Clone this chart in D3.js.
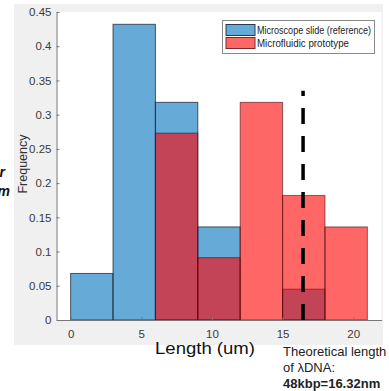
<!DOCTYPE html>
<html><head><meta charset="utf-8">
<script src="https://cdn.jsdelivr.net/npm/d3@7"></script>
<style>body{margin:0;background:#fff}svg{display:block;font-family:Arial,"Liberation Sans",sans-serif}</style>
</head><body><svg id="c" width="389" height="391"></svg>
<script>
const binEdges = [0, 3, 6, 9, 12, 15, 18, 21];
const slideFreq = [0.068, 0.432, 0.318, 0.136, 0, 0.045, 0];
const chipFreq  = [0, 0, 0.273, 0.091, 0.318, 0.182, 0.136];
const xTicks = [0, 5, 10, 15, 20];
const yTicks = [0, 0.05, 0.1, 0.15, 0.2, 0.25, 0.3, 0.35, 0.4, 0.45];
const seriesNames = ["Microscope slide (reference)", "Microfluidic prototype"];
const lambdaLength = 16.45;
const lambdaLineTop = 0.335;

const svg = d3.select("#c");
const x = d3.scaleLinear().domain([-1, 22]).range([56.5, 381.5]);
const y = d3.scaleLinear().domain([0, 0.45]).range([320, 12]);

// figure background
svg.append("rect").attr("x",14).attr("y",4).attr("width",369).attr("height",341).attr("fill","#f0f0f0");
svg.append("rect").attr("x",x(-1)).attr("y",y(0.45)).attr("width",x(22)-x(-1)).attr("height",y(0)-y(0.45)).attr("fill","#fff");

const bins = d3.range(binEdges.length-1).map(i=>({x0:binEdges[i],x1:binEdges[i+1],a:slideFreq[i],b:chipFreq[i]}));

svg.append("g").selectAll("rect").data(bins.filter(d=>d.a>0)).join("rect")
  .attr("x",d=>x(d.x0)).attr("width",d=>x(d.x1)-x(d.x0))
  .attr("y",d=>y(d.a)).attr("height",d=>y(0)-y(d.a))
  .attr("fill","rgb(0,114,189)").attr("fill-opacity",0.6)
  .attr("stroke","#1a1a2e").attr("stroke-opacity",0.7).attr("stroke-width",1);

svg.append("g").selectAll("rect").data(bins.filter(d=>d.b>0)).join("rect")
  .attr("x",d=>x(d.x0)).attr("width",d=>x(d.x1)-x(d.x0))
  .attr("y",d=>y(d.b)).attr("height",d=>y(0)-y(d.b))
  .attr("fill","rgb(255,0,0)").attr("fill-opacity",0.6)
  .attr("stroke","#3a0000").attr("stroke-opacity",0.55).attr("stroke-width",1);

// axes
const ax = svg.append("g").attr("transform",`translate(0,${y(0)})`)
  .call(d3.axisBottom(x).tickValues(xTicks).tickSizeInner(-3).tickSizeOuter(0).tickPadding(9.5));
const ay = svg.append("g").attr("transform",`translate(${x(-1)},0)`)
  .call(d3.axisLeft(y).tickValues(yTicks).tickFormat(d=>String(+d.toFixed(2))).tickSizeInner(-3).tickSizeOuter(0).tickPadding(5));
[ax,ay].forEach(g=>{
  g.select(".domain").attr("stroke","#777");
  g.selectAll(".tick line").attr("stroke","#777");
  g.selectAll(".tick text").attr("fill","#3a3a3a").attr("font-size",11.5).attr("font-family","Arial,'Liberation Sans',sans-serif");
});

// dashed theoretical line (drawn bottom-up)
svg.append("line").attr("x1",x(lambdaLength)).attr("x2",x(lambdaLength))
  .attr("y1",y(0)).attr("y2",y(lambdaLineTop))
  .attr("stroke","#000").attr("stroke-width",3.5).attr("stroke-dasharray","16,12");

// legend
const lg = svg.append("g");
lg.append("rect").attr("x",222.5).attr("y",20.5).attr("width",152).attr("height",33).attr("fill","#fff").attr("stroke","#8a8a8a");
const lcol = ["#66aad7","#ff6666"], lstroke=["#2a3a4a","#7a2a2a"];
seriesNames.forEach((n,i)=>{
  lg.append("rect").attr("x",226).attr("y",24.5+i*13).attr("width",29).attr("height",11).attr("fill",lcol[i]).attr("stroke",lstroke[i]).attr("stroke-width",1);
  lg.append("text").attr("x",257).attr("y",34+i*13).attr("font-size",10.5).attr("fill","#222")
    .attr("textLength",i==0?114:92).attr("lengthAdjust","spacingAndGlyphs").text(n);
});

// labels
svg.append("text").attr("transform","translate(26.5,164) rotate(-90)").attr("text-anchor","middle")
  .attr("font-size",12.5).attr("fill","#333").text("Frequency");
svg.append("text").attr("x",155).attr("y",354).attr("font-size",17).attr("fill","#111")
  .attr("textLength",100).attr("lengthAdjust","spacingAndGlyphs").text("Length (um)");
const note = ["Theoretical length","of \u03bbDNA:","48kbp=16.32nm"];
note.forEach((t,i)=>svg.append("text").attr("x",283).attr("y",356+i*16.2).attr("font-size",13)
  .attr("fill","#222").attr("font-weight",i==2?"bold":"normal").text(t));
svg.append("text").attr("x",5).attr("y",177).attr("text-anchor","end").attr("font-size",14).attr("font-weight","bold").attr("font-style","italic").attr("fill","#111").text("r");
svg.append("text").attr("x",10).attr("y",196).attr("text-anchor","end").attr("font-size",14).attr("font-weight","bold").attr("font-style","italic").attr("fill","#111").text("m");
</script></body></html>
